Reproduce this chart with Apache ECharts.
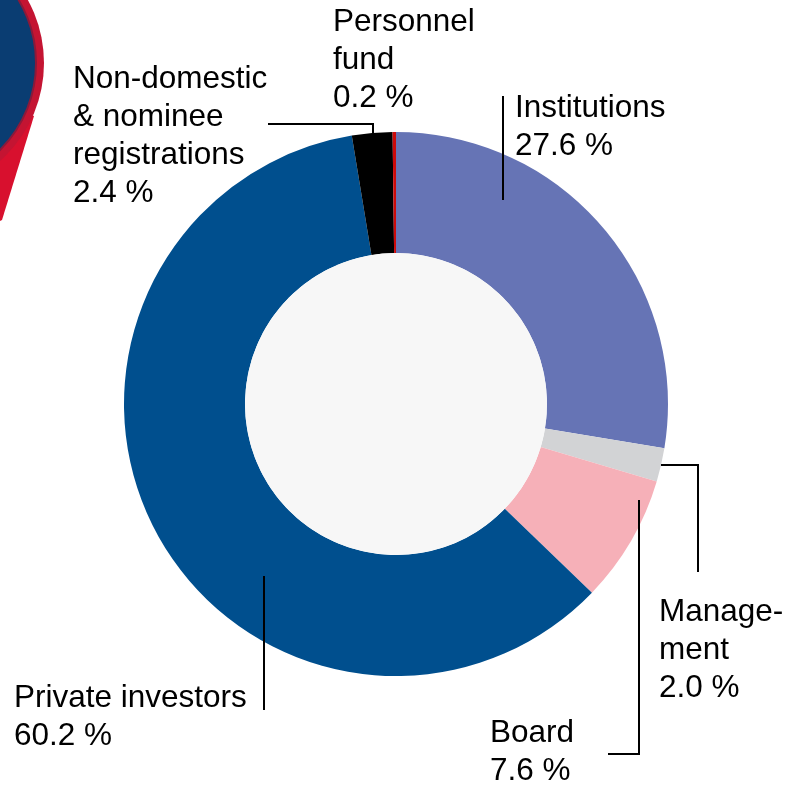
<!DOCTYPE html>
<html>
<head>
<meta charset="utf-8">
<script src="https://cdn.jsdelivr.net/npm/echarts@6/dist/echarts.min.js"></script>
<style>
  html, body { margin: 0; padding: 0; background: #fff; }
  #chart { width: 788px; height: 786px; }
</style>
</head>
<body>
<div id="chart"></div>
<script>
// shareholder groups, clockwise from 12 o'clock
const categories = ['Institutions', 'Manage-\nment', 'Board', 'Private investors', 'Non-domestic\n& nominee\nregistrations', 'Personnel\nfund'];
const shares = [27.6, 2.0, 7.6, 60.2, 2.4, 0.2];
const colors = ['#6674b5', '#d2d3d5', '#f6b0b8', '#004f8e', '#000000', '#cc0a0a'];

// where each label sits and how its leader line runs
const labelSpots = [
  { x: 515, y: 89, line: [[503, 200], [503, 96]] },
  { x: 659, y: 593, line: [[661, 465], [698, 465], [698, 572]] },
  { x: 490, y: 714, line: [[639, 500], [639, 754], [608, 754]] },
  { x: 14, y: 679, line: [[264, 576], [264, 710]] },
  { x: 73, y: 60, line: [[373, 133], [373, 124], [268, 124]] },
  { x: 333, y: 3, line: null }
];

var chartDom = document.getElementById('chart');
var myChart = echarts.init(chartDom);

var pieData = categories.map(function (name, i) {
  return { name: name, value: shares[i], itemStyle: { color: colors[i] } };
});

// leader lines drawn over the ring, like in the printed graphic
var leaderLines = labelSpots.filter(function (s) { return s.line; }).map(function (s) {
  return {
    type: 'polyline',
    shape: { points: s.line },
    style: { stroke: '#000', lineWidth: 2, fill: null },
    z: 10
  };
});

var option = {
  backgroundColor: '#ffffff',
  animation: false,
  graphic: [
    // bit of the red/blue map pin peeking in at the top left
    {
      type: 'polygon',
      shape: { points: [[-87, 63], [34, 116], [2, 220], [-60, 250]] },
      style: { fill: '#d8102e' },
      z: 1
    },
    {
      type: 'circle',
      shape: { cx: -87, cy: 63, r: 131 },
      style: { fill: '#c41432' },
      z: 1
    },
    {
      type: 'circle',
      shape: { cx: -87, cy: 63, r: 123 },
      style: { fill: '#0a3d72', stroke: '#8a1a3a', lineWidth: 2 },
      z: 2
    }
  ].concat(leaderLines),
  series: [
    {
      name: 'Shareholders',
      type: 'pie',
      center: [396, 404],
      radius: [151, 272],
      startAngle: 90,
      clockwise: true,
      avoidLabelOverlap: false,
      itemStyle: { borderWidth: 0 },
      label: {
        show: true,
        position: 'outside',
        alignTo: 'none',
        color: '#000',
        fontFamily: 'Liberation Sans, Arial, sans-serif',
        fontSize: 31.5,
        lineHeight: 38,
        formatter: function (p) {
          return p.name + '\n' + p.value.toFixed(1) + ' %';
        }
      },
      labelLine: { show: false },
      labelLayout: function (params) {
        var spot = labelSpots[params.dataIndex];
        return { x: spot.x, y: spot.y, align: 'left', verticalAlign: 'top' };
      },
      emphasis: { disabled: true },
      data: pieData
    },
    {
      // light hole in the middle
      name: 'hole',
      type: 'pie',
      center: [396, 404],
      radius: [0, 151],
      silent: true,
      label: { show: false },
      labelLine: { show: false },
      itemStyle: { color: '#f7f7f7' },
      data: [{ value: 1, name: '' }]
    }
  ]
};

option && myChart.setOption(option);
</script>
</body>
</html>
